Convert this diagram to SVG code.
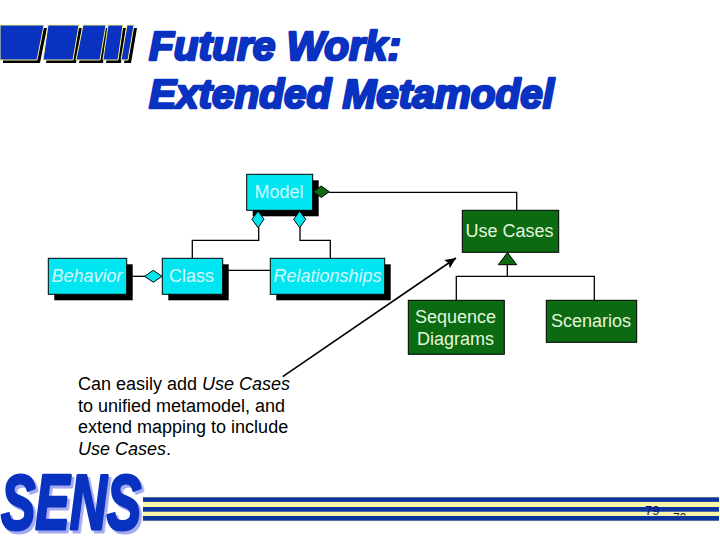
<svg xmlns="http://www.w3.org/2000/svg" width="720" height="540" viewBox="0 0 720 540">
<style>
.t{font-family:"Liberation Sans",Arial,sans-serif;font-size:18px}
.title{font-family:"Liberation Sans",Arial,sans-serif;font-size:41px;font-weight:bold;font-style:italic;fill:#0a32c0;stroke:#0a32c0;stroke-width:2.6px;stroke-linejoin:round}
.c{fill:#00e6f0;stroke:#000;stroke-width:1}
.g{fill:#0b6a12;stroke:#000;stroke-width:1}
.s{fill:#000}
.lc{fill:#d4f8ff;text-anchor:middle}
.lg{fill:#e4f6dc;text-anchor:middle}
.i{font-style:italic}
.w{fill:none;stroke:#000;stroke-width:1.3}
.bar{fill:#0a32c0;stroke:#f4f490;stroke-width:1}
.barS{fill:#000}
.logo{font-family:"Liberation Sans",Arial,sans-serif;font-size:78px;font-weight:bold;font-style:italic;fill:#0a32c0;stroke:#0a32c0;stroke-width:3px;stroke-linejoin:round;filter:drop-shadow(4px 3px 0 #a4aaf0)}
</style>
<defs>
<marker id="ah" markerUnits="userSpaceOnUse" markerWidth="12" markerHeight="10" refX="11" refY="5" orient="auto"><path d="M0,0 L11,5 L0,10 L2,5 Z" fill="#000"/></marker>
<clipPath id="clipTop"><rect x="670" y="512" width="20" height="3.5"/></clipPath>
</defs>
<g id="header-bars">
<path class="barS" d="M3,28 H47 L40,63 H3 Z M51,28 H82 L76,63 H46 Z M86,28 H109 L103,63 H79 Z M111,28 H126 L121,63 H106 Z M130,28 H137 L131,63 H124 Z"/>
<path class="bar" d="M0,25 H44 L37,60 H0 Z M48,25 H79 L73,60 H43 Z M83,25 H106 L100,60 H76 Z M108,25 H123 L118,60 H103 Z M127,25 H134 L128,60 H121 Z"/>
</g>
<g id="title">
<text class="title" x="149" y="60" textLength="252" lengthAdjust="spacingAndGlyphs">Future Work:</text>
<text class="title" x="149" y="108" textLength="405" lengthAdjust="spacingAndGlyphs">Extended Metamodel</text>
</g>
<g id="connectors">
<path class="w" d="M329,192.3 H516.7 V210"/>
<path class="w" d="M258.7,227 V240.3 H192.3 V258"/>
<path class="w" d="M300,227 V240.3 H330.3 V258"/>
<path class="w" d="M132,276.3 H145"/>
<path class="w" d="M228,270.3 H270"/>
<path class="w" d="M507.3,264.7 V276.3 M456.3,300 V276.3 H594.3 V300"/>
<path d="M282.7,376.7 L456,258" fill="none" stroke="#000" stroke-width="1.6" marker-end="url(#ah)"/>
</g>
<g id="node-model">
<rect class="s" x="252.7" y="180.3" width="66" height="36"/>
<rect class="c" x="246.7" y="174.3" width="66" height="36"/>
<text class="t lc" x="279" y="198">Model</text>
<path class="g" d="M313.3,191.7 L321.3,186 L329.3,191.7 L321.3,197.4 Z"/>
<path class="c" d="M258,211 L264,219.3 L258,227.7 L252,219.3 Z"/>
<path class="c" d="M299.7,211 L305.7,219.3 L299.7,227.7 L293.7,219.3 Z"/>
</g>
<g id="node-behavior">
<rect class="s" x="54.3" y="264.3" width="78.4" height="36"/>
<rect class="c" x="48.3" y="258.3" width="78.4" height="36"/>
<text class="t lc i" x="87" y="282">Behavior</text>
</g>
<g id="node-class">
<rect class="s" x="168.3" y="264.3" width="60.4" height="36"/>
<rect class="c" x="162.3" y="258.3" width="60.4" height="36"/>
<text class="t lc" x="191.5" y="282">Class</text>
<path class="c" d="M144.7,276.3 L153.3,270.3 L162,276.3 L153.3,282.3 Z"/>
</g>
<g id="node-relationships">
<rect class="s" x="276.3" y="264.3" width="114.4" height="36"/>
<rect class="c" x="270.3" y="258.3" width="114.4" height="36"/>
<text class="t lc i" x="327.5" y="282">Relationships</text>
</g>
<g id="node-use-cases">
<rect class="g" x="462.3" y="210.3" width="96.4" height="42"/>
<text class="t lg" x="509.5" y="237">Use Cases</text>
<path class="g" d="M507.5,252.5 L516.7,264.7 H498.3 Z"/>
</g>
<g id="node-sequence-diagrams">
<rect class="g" x="408.3" y="300.3" width="96" height="54"/>
<text class="t lg" x="455.5" y="322.5">Sequence</text>
<text class="t lg" x="455.5" y="344.5">Diagrams</text>
</g>
<g id="node-scenarios">
<rect class="g" x="546.3" y="300.3" width="90.4" height="42"/>
<text class="t lg" x="591" y="327">Scenarios</text>
</g>
<g id="note">
<text class="t" x="78" y="390" fill="#000">Can easily add <tspan class="i">Use Cases</tspan></text>
<text class="t" x="78" y="411.5" fill="#000">to unified metamodel, and</text>
<text class="t" x="78" y="433" fill="#000">extend mapping to include</text>
<text class="t" x="78" y="454.5" fill="#000"><tspan class="i">Use Cases</tspan>.</text>
</g>
<g id="footer">
<rect x="143" y="496.7" width="576" height="24.4" fill="#f8f8a8"/>
<rect x="143" y="497.3" width="576" height="4.6" fill="#0a35a0"/>
<rect x="143" y="507" width="576" height="4.7" fill="#0a35a0"/>
<rect x="143" y="516" width="576" height="4.7" fill="#0a35a0"/>
<text class="logo" transform="translate(1 529) scale(.66 1)">SENS</text>
<text x="645" y="515" font-family="Liberation Sans,Arial,sans-serif" font-size="13" fill="#10106a">79</text>
<text x="673" y="522" font-family="Liberation Sans,Arial,sans-serif" font-size="12" fill="#222" clip-path="url(#clipTop)">79</text>
</g>
</svg>
